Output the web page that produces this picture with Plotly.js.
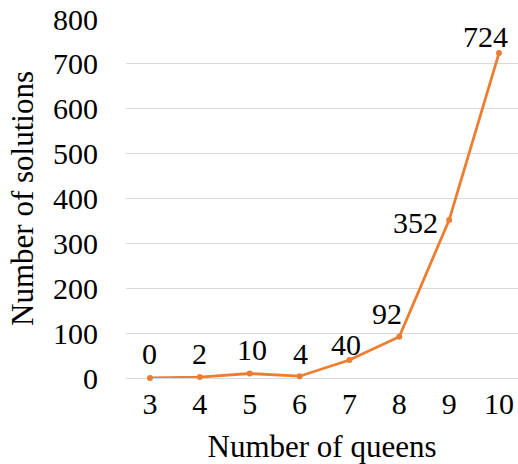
<!DOCTYPE html>
<html><head><meta charset="utf-8">
<script src="https://cdn.plot.ly/plotly-3.0.1.min.js"></script>
<style>html,body{margin:0;padding:0;background:#fff}#c{width:518px;height:464px}</style>
</head><body><div id="c"></div>
<script>
const queens = ["3","4","5","6","7","8","9","10"];
const solutions = [0,2,10,4,40,92,352,724];
const yTicks = [0,100,200,300,400,500,600,700,800];
// label pixel offsets (styling only)
const labelDx = [0,0,2,1,-3,-12,-34,-14];
const labelDy = [-25,-24,-24,-23,-16,-23,2,-17];

const FONT = "'Times New Roman', 'Liberation Serif', 'DejaVu Serif', serif";
const annotations = queens.map((q,i)=>({
  x:i, y:solutions[i], xref:'x', yref:'y', text:String(solutions[i]),
  showarrow:false, xshift:labelDx[i], yshift:-labelDy[i],
  font:{family:FONT,size:30,color:'#000'}, xanchor:'center', yanchor:'middle'
}));

Plotly.newPlot('c',[{
  x:queens.map((q,i)=>i), y:solutions, type:'scatter', mode:'lines+markers',
  line:{color:'#ED7D31',width:2.8}, marker:{color:'#ED7D31',size:6},
  cliponaxis:false, hoverinfo:'skip'
}],{
  width:518,height:464,
  margin:{l:126,r:0,t:19,b:86},
  paper_bgcolor:'#fff',plot_bgcolor:'#fff',
  showlegend:false,
  font:{family:FONT,size:30,color:'#000'},
  xaxis:{range:[-0.481,7.381],tickmode:'array',tickvals:queens.map((q,i)=>i),ticktext:queens,
    showgrid:false,zeroline:false,showline:false,ticks:'',ticklabelstandoff:5,
    title:{text:'Number of queens',font:{family:FONT,size:31},standoff:17},
    tickfont:{family:FONT,size:30}},
  yaxis:{range:[0,800],tickmode:'array',tickvals:yTicks,
    showgrid:true,gridcolor:'#D9D9D9',gridwidth:1,zeroline:true,zerolinecolor:'#D9D9D9',zerolinewidth:1,
    showline:false,ticks:'',ticklabelstandoff:27,
    title:{text:'Number of solutions',font:{family:FONT,size:31},standoff:10},
    tickfont:{family:FONT,size:30}},
  annotations:annotations
},{displayModeBar:false,staticPlot:true});
</script></body></html>
